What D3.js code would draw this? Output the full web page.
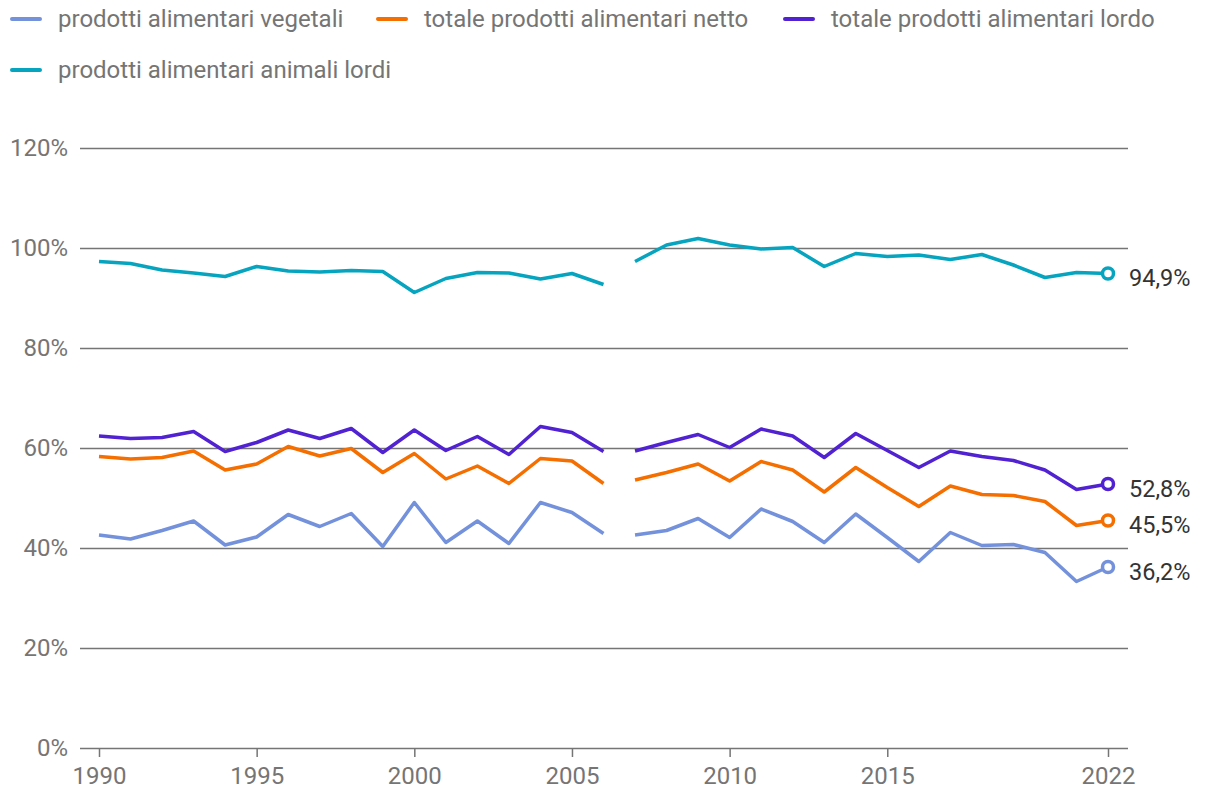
<!DOCTYPE html>
<html>
<head>
<meta charset="utf-8">
<script src="https://cdn.jsdelivr.net/npm/d3@7"></script>
<style>
  body { margin: 0; background: #fff; font-family: Roboto, sans-serif; }
  svg text { font-family: Roboto, sans-serif; }
</style>
</head>
<body>
<script>
var w = 1220;
var h = 808;

var years = d3.range(1990, 2023);
var xTicks = [1990, 1995, 2000, 2005, 2010, 2015, 2022];
var yTicks = [0, 20, 40, 60, 80, 100, 120];
// the lines are broken between these two years
var gapAfter = 2006;

var seriesNames = [
  "prodotti alimentari vegetali",
  "totale prodotti alimentari netto",
  "totale prodotti alimentari lordo",
  "prodotti alimentari animali lordi"
];
var seriesColors = ["#7491db", "#f56e00", "#5122d1", "#06a4bf"];

var vegetali = [42.6, 41.8, 43.5, 45.4, 40.6, 42.2, 46.7, 44.3, 46.9, 40.3, 49.1, 41.1, 45.4, 40.9, 49.1, 47.1, 42.9,
  42.6, 43.5, 45.9, 42.1, 47.8, 45.3, 41.1, 46.8, 42.1, 37.3, 43.1, 40.5, 40.7, 39.1, 33.3, 36.2];
var netto = [58.3, 57.8, 58.1, 59.4, 55.6, 56.8, 60.3, 58.4, 59.9, 55.1, 58.9, 53.8, 56.4, 52.9, 57.9, 57.4, 52.9,
  53.6, 55.1, 56.8, 53.4, 57.3, 55.6, 51.2, 56.1, 52.1, 48.3, 52.4, 50.7, 50.5, 49.3, 44.5, 45.5];
var lordo = [62.4, 61.9, 62.1, 63.3, 59.3, 61.1, 63.6, 61.9, 63.9, 59.1, 63.6, 59.5, 62.3, 58.7, 64.3, 63.1, 59.3,
  59.4, 61.1, 62.7, 60.1, 63.8, 62.4, 58.1, 62.9, 59.5, 56.1, 59.4, 58.3, 57.5, 55.6, 51.7, 52.8];
var animali = [97.3, 96.9, 95.6, 95.0, 94.3, 96.3, 95.4, 95.2, 95.5, 95.3, 91.1, 93.9, 95.1, 95.0, 93.8, 94.9, 92.7,
  97.3, 100.6, 101.9, 100.6, 99.8, 100.1, 96.3, 98.9, 98.3, 98.6, 97.7, 98.7, 96.6, 94.1, 95.1, 94.9];

var seriesValues = [vegetali, netto, lordo, animali];
// drawing order: animali behind, then lordo, netto, vegetali on top
var drawOrder = [3, 2, 1, 0];

var x = d3.scaleLinear().domain([1990, 2022]).range([99, 1108]);
var y = d3.scaleLinear().domain([0, 120]).range([748, 148]);

var svg = d3.select("body").append("svg")
  .attr("width", w)
  .attr("height", h);

// gridlines + y labels
var yAxis = d3.axisLeft(y)
  .tickValues(yTicks)
  .tickSize(-(1128 - 80))
  .tickPadding(12)
  .tickFormat(d => d + "%");

svg.append("g")
  .attr("transform", "translate(80,0)")
  .call(yAxis)
  .call(g => g.select(".domain").remove())
  .call(g => g.selectAll(".tick line").attr("stroke", "#757575").attr("stroke-width", 1.5))
  .call(g => g.selectAll(".tick text")
    .attr("fill", "#757575")
    .attr("font-size", 24)
    .attr("x", -12));

// x axis
var xAxis = d3.axisBottom(x)
  .tickValues(xTicks)
  .tickSize(9)
  .tickPadding(10)
  .tickFormat(d3.format("d"));

svg.append("g")
  .attr("transform", "translate(0,748)")
  .call(xAxis)
  .call(g => g.select(".domain").remove())
  .call(g => g.selectAll(".tick line").attr("stroke", "#757575").attr("stroke-width", 1.5))
  .call(g => g.selectAll(".tick text")
    .attr("fill", "#757575")
    .attr("font-size", 24));

var line = d3.line()
  .x(d => x(d.year))
  .y(d => y(d.value));

drawOrder.forEach(i => {
  var pts = years.map((yr, j) => ({ year: yr, value: seriesValues[i][j] }));
  var parts = [pts.filter(p => p.year <= gapAfter), pts.filter(p => p.year > gapAfter)];
  parts.forEach(part => {
    svg.append("path")
      .datum(part)
      .attr("fill", "none")
      .attr("stroke", seriesColors[i])
      .attr("stroke-width", 3.5)
      .attr("stroke-linejoin", "round")
      .attr("d", line);
  });

  var last = pts[pts.length - 1];
  svg.append("circle")
    .attr("cx", x(last.year))
    .attr("cy", y(last.value))
    .attr("r", 5.5)
    .attr("fill", "#fff")
    .attr("stroke", seriesColors[i])
    .attr("stroke-width", 3.5);

  svg.append("text")
    .attr("x", x(last.year) + 21)
    .attr("y", y(last.value) + 1)
    .attr("dy", "0.5em")
    .attr("fill", "#333")
    .attr("font-size", 23.5)
    .text(d3.format(".1f")(last.value).replace(".", ",") + "%");
});

// legend
var legendPos = [[10, 19], [376, 19], [783, 19], [10, 70]];
var legend = svg.selectAll(".legend")
  .data(seriesNames)
  .enter()
  .append("g")
  .attr("class", "legend")
  .attr("transform", (d, i) => "translate(" + legendPos[i][0] + "," + legendPos[i][1] + ")");

legend.append("line")
  .attr("x1", 2)
  .attr("x2", 30)
  .attr("stroke", (d, i) => seriesColors[i])
  .attr("stroke-width", 4)
  .attr("stroke-linecap", "round");

legend.append("text")
  .attr("x", 48)
  .attr("dy", "0.35em")
  .attr("fill", "#757575")
  .attr("font-size", 24)
  .text(d => d);
</script>
</body>
</html>
